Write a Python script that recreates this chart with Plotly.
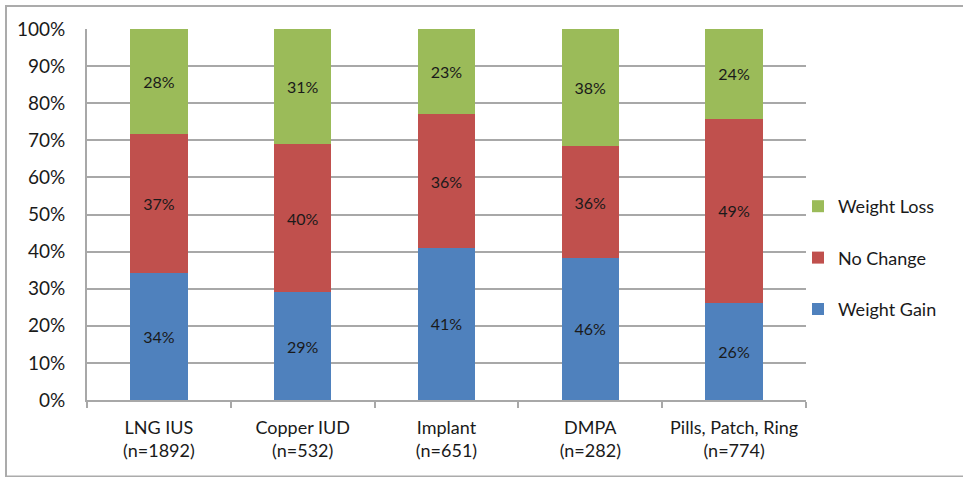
import plotly.graph_objects as go

# Contraceptive method groups (x axis) and reported weight change shares (%)
categories = [
    "LNG IUS<br>(n=1892)",
    "Copper IUD<br>(n=532)",
    "Implant<br>(n=651)",
    "DMPA<br>(n=282)",
    "Pills, Patch, Ring<br>(n=774)",
]
weight_gain = [34, 29, 41, 46, 26]
no_change = [37, 40, 36, 36, 49]
weight_loss = [28, 31, 23, 38, 24]

y_tick_values = [0, 10, 20, 30, 40, 50, 60, 70, 80, 90, 100]
y_tick_labels = [f"{v}%" for v in y_tick_values]

# (name, values, colour, legend rank: lower ranks are listed first)
series = [
    ("Weight Gain", weight_gain, "#4F81BD", 3),
    ("No Change", no_change, "#C0504D", 2),
    ("Weight Loss", weight_loss, "#9BBB59", 1),
]

FONT = "Lato, 'Open Sans', sans-serif"
GRID = "#A8A8A8"

fig = go.Figure()
for name, values, color, rank in series:
    fig.add_trace(
        go.Bar(
            x=categories,
            y=values,
            name=name,
            legendgroup=name,
            legendrank=rank,
            marker=dict(color=color, line=dict(width=0)),
            text=[f"{v}%" for v in values],
            textposition="inside",
            insidetextanchor="middle",
            textangle=0,
            textfont=dict(family=FONT, size=16, color="#1a1a1a"),
            hoverinfo="skip",
        )
    )

# Plot area in pixels: x 87..806, y 29..400 inside a 963x477 canvas
L, R, T, B = 87, 157, 29, 77
W, H = 963, 477
pw, ph = W - L - R, H - T - B


def px_x(p):
    return (p - L) / pw


def px_y(p):
    return (H - B - p) / ph


fig.update_layout(
    width=W,
    height=H,
    margin=dict(l=L, r=R, t=T, b=B, pad=0),
    barmode="stack",
    barnorm="percent",
    bargap=0.60,
    paper_bgcolor="white",
    plot_bgcolor="white",
    font=dict(family=FONT, color="#1a1a1a"),
    showlegend=True,
    legend=dict(
        traceorder="grouped",
        tracegroupgap=25,
        x=px_x(798),
        xanchor="left",
        y=px_y(258),
        yanchor="middle",
        font=dict(family=FONT, size=18, color="#1a1a1a"),
        bgcolor="rgba(0,0,0,0)",
        itemwidth=30,
    ),
    xaxis=dict(
        type="category",
        showgrid=False,
        showline=True,
        linecolor=GRID,
        linewidth=2,
        ticks="outside",
        tickson="boundaries",
        ticklen=6,
        tickcolor=GRID,
        tickwidth=2,
        ticklabelstandoff=10,
        tickfont=dict(family=FONT, size=18, color="#1a1a1a"),
        fixedrange=True,
    ),
    yaxis=dict(
        range=[0, 100],
        tickvals=y_tick_values,
        ticktext=y_tick_labels,
        showgrid=True,
        gridcolor=GRID,
        gridwidth=1.5,
        showline=True,
        linecolor=GRID,
        linewidth=2,
        ticks="",
        ticklabelstandoff=16,
        zeroline=False,
        tickfont=dict(family=FONT, size=19, color="#1a1a1a"),
        fixedrange=True,
    ),
    shapes=[
        dict(
            type="rect",
            xref="paper",
            yref="paper",
            x0=px_x(6),
            x1=px_x(975),
            y0=px_y(476.5),
            y1=px_y(6),
            line=dict(color="#ABABAB", width=2),
            fillcolor="rgba(0,0,0,0)",
            layer="below",
        )
    ],
)

fig.write_html("out.html")
